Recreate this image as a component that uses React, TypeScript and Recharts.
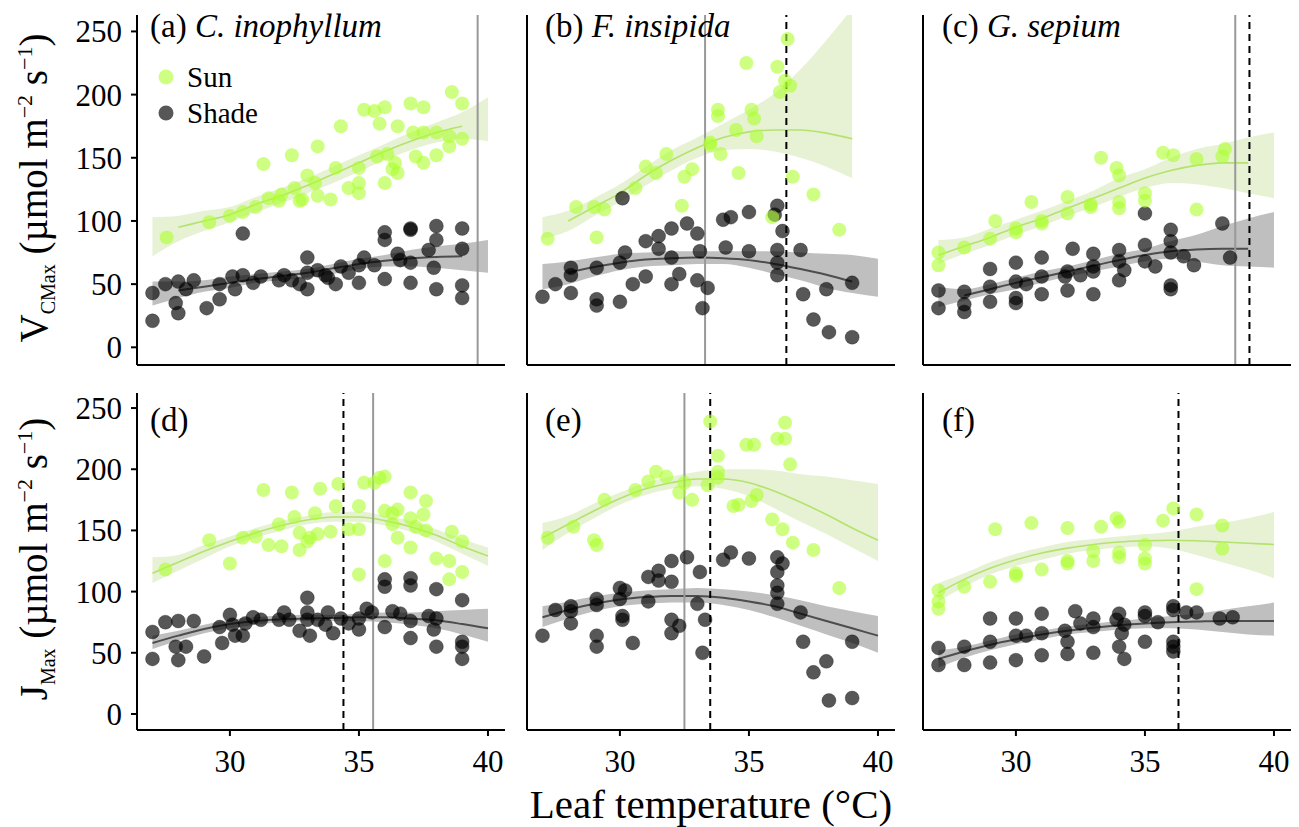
import React from "react";
import { Area, ComposedChart, Line, ReferenceLine, Scatter, XAxis, YAxis } from "recharts";

const FONT = "'Liberation Serif', 'Times New Roman', serif";
const SUN_FILL = "#adff2f";
const SHADE_FILL = "#000000";

type Pt = [number, number];
type Num = number | null;

// fitted curves are sampled on this temperature grid
const T_GRID = [27, 28, 29, 30, 31, 32, 33, 34, 35, 36, 37, 38, 39, 40];
const X_TICKS = [30, 35, 40];
const Y_TICKS = [0, 50, 100, 150, 200, 250];

// ---- (a) C. inophyllum, Vcmax
const A_SUN: Pt[] = [
  [27.55, 87], [29.2, 99], [30.0, 104], [30.5, 107], [31.0, 111], [31.3, 145], [31.5, 118], [31.9, 116],
  [32.0, 121], [32.4, 152], [32.5, 126], [32.7, 116], [32.8, 117], [33.0, 136], [33.3, 130], [33.4, 120],
  [33.4, 159], [33.9, 117], [34.1, 142], [34.3, 175], [34.6, 126], [35.0, 122], [35.0, 130], [35.0, 142],
  [35.2, 188], [35.6, 187], [35.8, 177], [35.7, 151], [36.0, 130], [36.0, 190], [36.1, 153], [36.3, 141],
  [36.4, 146], [36.5, 138], [36.5, 175], [37.0, 193], [37.1, 170], [37.2, 151], [37.5, 170], [37.5, 146],
  [37.5, 190], [38.0, 170], [38.0, 152], [38.5, 167], [38.5, 159], [38.6, 202], [39.0, 165], [39.0, 193],
];
const A_SHADE: Pt[] = [
  [27.0, 43], [27.0, 21], [27.5, 50], [27.9, 35], [28.0, 27], [28.0, 52], [28.3, 46], [28.6, 53],
  [29.1, 31], [29.6, 38], [29.6, 50], [30.1, 56], [30.2, 46], [30.5, 90], [30.5, 57], [30.9, 51],
  [31.2, 56], [31.9, 53], [32.1, 57], [32.4, 53], [32.7, 50], [33.0, 46], [33.0, 71], [33.0, 59],
  [33.4, 61], [33.7, 57], [33.8, 55], [34.1, 50], [34.3, 64], [34.6, 59], [35.0, 51], [35.0, 65],
  [35.2, 71], [35.6, 65], [36.0, 91], [36.0, 85], [36.0, 54], [36.5, 74], [36.6, 69], [37.0, 94],
  [37.0, 93], [37.0, 67], [37.0, 51], [37.7, 77], [38.0, 85], [38.0, 96], [37.9, 63], [38.0, 46],
  [39.0, 94], [39.0, 78], [39.0, 49], [39.0, 39],
];
const A_SUN_FIT: Num[] = [null, 95, 100, 105, 113, 120, 128, 137, 146, 155, 163, 170, 175, null];
const A_SUN_LO: Num[] = [72, 84, 92, 99, 107, 114, 122, 130, 139, 148, 156, 162, 165, 163];
const A_SUN_HI: Num[] = [103, 104, 108, 111, 119, 126, 134, 143, 152, 161, 170, 178, 186, 198];
const A_SHADE_FIT: Num[] = [null, 45, 48, 51, 54, 56.5, 59, 62.5, 66, 68.5, 70.5, 71.5, 72, null];
const A_SHADE_LO: Num[] = [33, 39, 44, 47, 51, 53, 55, 58, 62, 64, 64, 63, 61, 59];
const A_SHADE_HI: Num[] = [52, 52, 53, 56, 58, 60, 62, 66, 70, 73, 77, 80, 82, 85];

// ---- (b) F. insipida, Vcmax
const B_SUN: Pt[] = [
  [27.2, 86], [28.3, 111], [29.0, 111], [29.1, 87], [29.4, 109], [30.6, 126], [31.0, 143], [31.4, 138],
  [31.8, 153], [32.4, 112], [32.5, 135], [32.8, 141], [33.5, 162], [33.5, 160], [33.8, 188], [33.8, 183],
  [33.9, 153], [34.5, 172], [34.6, 138], [34.9, 225], [35.1, 188], [35.2, 181], [35.3, 167], [35.9, 103],
  [36.1, 222], [36.2, 202], [36.4, 211], [36.5, 244], [36.6, 207], [36.7, 135], [37.5, 121], [38.5, 93],
];
const B_SHADE: Pt[] = [
  [27.0, 40], [27.5, 50], [28.1, 63], [28.1, 57], [28.1, 43], [29.1, 63], [29.1, 38], [29.1, 33],
  [30.0, 67], [30.1, 118], [30.2, 75], [30.0, 36], [30.5, 50], [31.0, 84], [31.0, 56], [31.5, 88],
  [31.5, 78], [32.0, 94], [32.0, 71], [32.0, 50], [32.3, 58], [32.6, 98], [33.0, 90], [33.1, 76],
  [33.0, 53], [33.4, 47], [33.2, 31], [34.0, 101], [34.3, 103], [34.1, 79], [35.0, 107], [35.0, 76],
  [36.1, 112], [36.0, 105], [36.3, 92], [36.1, 77], [36.1, 67], [36.1, 57], [37.0, 77], [37.1, 42],
  [38.0, 46], [37.5, 22], [38.1, 12], [39.0, 51], [39.0, 8],
];
const B_SUN_FIT: Num[] = [null, 100, 111, 122, 136, 148, 158, 166, 170.5, 172, 172, 169.5, 165, null];
const B_SUN_LO: Num[] = [86, 92, 104, 115, 128, 140, 150, 156, 157, 155, 150, 143, 134, null];
const B_SUN_HI: Num[] = [103, 108, 118, 129, 143, 156, 166, 177, 188, 201, 220, 243, 268, null];
const B_SHADE_FIT: Num[] = [null, 59, 63.5, 67, 69.5, 70.5, 71, 70.5, 69, 66, 62, 57.5, 52, null];
const B_SHADE_LO: Num[] = [46, 50, 56, 61, 64, 65, 66, 66, 63, 58, 53, 47, 43, 40];
const B_SHADE_HI: Num[] = [66, 68, 71, 74, 75, 76, 76, 76, 76, 76, 75, 74, 73, 70];

// ---- (c) G. sepium, Vcmax
const C_SUN: Pt[] = [
  [27.0, 75], [27.0, 65], [28.0, 79], [29.2, 100], [29.0, 86], [30.0, 94], [30.0, 91], [30.6, 115],
  [31.0, 98], [31.0, 100], [32.0, 119], [32.0, 106], [32.9, 111], [32.9, 113], [33.3, 150], [33.9, 142],
  [34.0, 136], [34.0, 115], [34.0, 110], [35.0, 122], [35.0, 116], [35.7, 154], [36.1, 152], [37.0, 109],
  [37.0, 149], [38.0, 151], [38.1, 157],
];
const C_SHADE: Pt[] = [
  [27.0, 45], [27.0, 31], [28.0, 44], [28.0, 34], [28.0, 28], [29.0, 62], [29.0, 48], [29.0, 36],
  [30.0, 67], [30.0, 52], [30.0, 39], [30.0, 35], [30.4, 50], [31.0, 71], [31.0, 56], [31.0, 42],
  [31.9, 56], [32.0, 60], [32.0, 45], [32.2, 78], [32.5, 57], [33.0, 74], [33.0, 64], [33.0, 60],
  [33.0, 42], [34.0, 77], [34.0, 68], [34.0, 53], [34.2, 61], [35.0, 106], [35.0, 81], [35.0, 68],
  [35.4, 64], [36.0, 93], [36.0, 84], [36.0, 75], [36.0, 49], [36.0, 46], [36.5, 72], [36.9, 65],
  [38.0, 98], [38.3, 71],
];
const C_SUN_FIT: Num[] = [73, 80, 87, 95, 102, 110, 118, 126, 134, 140, 144, 146, 146, null];
const C_SUN_LO: Num[] = [66, 74, 81, 89, 96, 104, 111, 119, 126, 130, 129, 126, 122, 118];
const C_SUN_HI: Num[] = [85, 87, 94, 101, 108, 116, 124, 134, 141, 150, 157, 161, 166, 170];
const C_SHADE_FIT: Num[] = [null, 41, 46, 51, 55.5, 60, 64.5, 69, 73, 76, 77.5, 78, 78, null];
const C_SHADE_LO: Num[] = [32, 37, 42, 46, 51, 56, 60, 64, 68, 70, 68, 65, 64, 63];
const C_SHADE_HI: Num[] = [48, 46, 50, 55, 60, 64, 69, 74, 78, 84, 89, 96, 102, 107];

// ---- (d) C. inophyllum, Jmax
const D_SUN: Pt[] = [
  [27.5, 118], [29.2, 142], [30.0, 123], [30.5, 144], [31.0, 145], [31.3, 183], [31.5, 138], [31.9, 155],
  [32.0, 137], [32.4, 181], [32.5, 161], [32.7, 148], [32.7, 134], [33.0, 141], [33.1, 144], [33.3, 164],
  [33.4, 147], [33.5, 184], [33.9, 149], [34.1, 170], [34.2, 188], [34.6, 151], [35.0, 170], [35.0, 114],
  [35.0, 151], [35.2, 189], [35.6, 189], [35.8, 193], [36.0, 194], [36.0, 125], [36.0, 166], [36.3, 164],
  [36.3, 155], [36.5, 167], [36.5, 144], [37.0, 181], [37.0, 136], [37.0, 160], [37.2, 153], [37.5, 163],
  [37.6, 174], [37.6, 150], [38.0, 127], [38.5, 125], [38.5, 110], [38.6, 149], [39.0, 141], [39.0, 116],
];
const D_SHADE: Pt[] = [
  [27.0, 67], [27.0, 45], [27.5, 75], [27.9, 55], [28.0, 76], [28.0, 44], [28.3, 55], [28.6, 76],
  [29.0, 47], [29.6, 71], [29.7, 58], [30.0, 81], [30.1, 73], [30.2, 64], [30.5, 64], [30.6, 74],
  [30.9, 79], [31.2, 77], [31.9, 77], [32.1, 83], [32.3, 77], [32.7, 68], [33.0, 83], [33.0, 95],
  [33.0, 77], [33.1, 64], [33.4, 77], [33.7, 73], [33.8, 83], [34.0, 66], [34.3, 78], [34.6, 74],
  [35.0, 69], [35.0, 78], [35.3, 86], [35.5, 83], [36.0, 110], [36.0, 104], [36.0, 71], [36.3, 84],
  [36.6, 82], [37.0, 111], [37.0, 105], [37.0, 76], [37.0, 62], [37.7, 80], [38.0, 102], [38.0, 78],
  [37.9, 69], [38.0, 55], [39.0, 93], [39.0, 59], [39.0, 55], [39.0, 45],
];
const D_SUN_FIT: Num[] = [115, 124, 133, 141, 148, 154, 158.5, 161, 161, 158, 153, 146, 137, 129];
const D_SUN_LO: Num[] = [107, 117, 127, 137, 144, 150, 155, 157, 157, 154, 149, 141, 131, 121];
const D_SUN_HI: Num[] = [128, 130, 138, 145, 152, 158, 162, 165, 165.5, 162, 158, 151, 143, 136];
const D_SHADE_FIT: Num[] = [58, 64, 69.5, 73.5, 76, 77.5, 78, 78.5, 79, 79, 78, 76.5, 73.5, 70];
const D_SHADE_LO: Num[] = [53, 60, 66, 70, 73, 75, 76, 76, 76, 75, 73, 70, 65, 59];
const D_SHADE_HI: Num[] = [64, 68, 73, 77, 79, 80.5, 81, 81, 82, 83, 83, 84, 85, 86];

// ---- (e) F. insipida, Jmax
const E_SUN: Pt[] = [
  [27.2, 144], [28.2, 153], [29.0, 142], [29.1, 138], [29.4, 175], [30.6, 183], [31.1, 190], [31.4, 198],
  [31.8, 194], [32.3, 181], [32.5, 189], [32.8, 175], [33.4, 187], [33.5, 239], [33.8, 211], [33.8, 198],
  [33.8, 193], [34.4, 170], [34.6, 171], [34.9, 220], [35.2, 220], [35.1, 174], [35.3, 179], [35.9, 159],
  [36.1, 225], [36.4, 238], [36.4, 225], [36.3, 151], [36.6, 204], [36.7, 140], [37.5, 134], [38.5, 103],
];
const E_SHADE: Pt[] = [
  [27.0, 64], [27.5, 85], [28.1, 88], [28.1, 84], [28.1, 74], [29.1, 94], [29.1, 89], [29.1, 64],
  [29.1, 55], [30.0, 103], [30.1, 77], [30.1, 80], [30.2, 101], [30.0, 94], [30.5, 58], [31.1, 112],
  [31.1, 92], [31.5, 117], [31.5, 109], [32.0, 125], [32.0, 108], [32.0, 77], [32.0, 66], [32.3, 72],
  [32.6, 128], [33.1, 116], [33.0, 90], [33.3, 77], [33.2, 50], [34.0, 126], [34.3, 132], [35.0, 127],
  [36.1, 128], [36.3, 123], [36.1, 116], [36.1, 105], [36.1, 99], [36.1, 90], [37.0, 83], [37.1, 59],
  [38.0, 43], [37.5, 34], [38.1, 11], [39.0, 59], [39.0, 13],
];
const E_SUN_FIT: Num[] = [144, 155, 166, 176, 184, 189, 192, 192, 189, 182, 173, 163, 152, 142];
const E_SUN_LO: Num[] = [134, 148, 160, 171, 179, 184, 186, 184, 178, 168, 157, 147, 136, 125];
const E_SUN_HI: Num[] = [156, 162, 172, 181, 189, 194, 198, 200, 200, 199, 196, 194, 191, 188];
const E_SHADE_FIT: Num[] = [79, 85, 90, 93.5, 95.5, 96.5, 96.5, 95, 92, 88, 82, 76, 70, 64];
const E_SHADE_LO: Num[] = [71, 78, 84, 88, 90, 91, 91, 89, 85, 79, 72, 65, 58, 50];
const E_SHADE_HI: Num[] = [88, 92, 96, 99, 101, 102, 103, 102, 100, 97, 93, 88, 84, 80];

// ---- (f) G. sepium, Jmax
const F_SUN: Pt[] = [
  [27.0, 101], [27.0, 92], [27.0, 86], [28.0, 104], [29.0, 108], [29.2, 151], [30.0, 113], [30.0, 115],
  [30.6, 156], [31.0, 118], [32.0, 123], [32.0, 125], [32.0, 152], [33.0, 125], [33.0, 133], [33.3, 153],
  [33.9, 160], [34.0, 157], [34.0, 132], [34.0, 128], [35.0, 138], [35.0, 127], [35.0, 123], [35.7, 158],
  [36.1, 168], [37.0, 163], [37.0, 102], [38.0, 154], [38.0, 135],
];
const F_SHADE: Pt[] = [
  [27.0, 54], [27.0, 40], [28.0, 55], [28.0, 40], [29.0, 78], [29.0, 59], [29.0, 42], [30.0, 78],
  [30.0, 64], [30.0, 44], [30.4, 64], [31.0, 82], [31.0, 66], [31.0, 48], [31.9, 68], [32.0, 59],
  [32.0, 49], [32.3, 84], [32.5, 74], [33.0, 78], [33.0, 71], [33.0, 50], [33.9, 77], [34.0, 82],
  [34.1, 66], [34.2, 73], [34.0, 55], [34.2, 45], [35.0, 83], [35.0, 80], [35.0, 59], [35.5, 75],
  [36.1, 88], [36.1, 85], [36.1, 59], [36.1, 55], [36.1, 51], [36.6, 83], [37.0, 83], [37.9, 78],
  [38.4, 79],
];
const F_SUN_FIT: Num[] = [99, 110, 119, 126, 131.5, 135.5, 138.5, 140.5, 141.5, 142, 141.5, 140.5, 139.5, 138.5];
const F_SUN_LO: Num[] = [92, 104, 114, 121, 126, 131, 134, 136, 137, 135, 130, 124, 118, 111];
const F_SUN_HI: Num[] = [107, 115, 124, 131, 136, 140.5, 143, 145, 147, 149, 153, 156, 160, 165];
const F_SHADE_FIT: Num[] = [45, 51, 56.5, 61, 65, 68, 70.5, 72.5, 74, 75, 75.5, 76, 76, 76];
const F_SHADE_LO: Num[] = [38, 46, 52, 57, 61, 65, 67, 69, 70, 70, 69, 67, 65, 64];
const F_SHADE_HI: Num[] = [52, 55, 60, 65, 68, 71.5, 74, 76, 78, 80, 82, 85, 88, 91];

// optimum temperatures: grey solid = sun, black dashed = shade
const SOLID_LINES: Num[] = [39.6, 33.3, 38.5, 35.55, 32.5, null];
const DASHED_LINES: Num[] = [null, 36.45, 39.05, 34.4, 33.5, 36.3];

const PANEL_TAGS = ["(a)", "(b)", "(c)", "(d)", "(e)", "(f)"];
const SPECIES = ["C. inophyllum", "F. insipida", "G. sepium", "", "", ""];

interface Spec {
  sun: Pt[];
  shade: Pt[];
  sunFit: Num[];
  sunLo: Num[];
  sunHi: Num[];
  shadeFit: Num[];
  shadeLo: Num[];
  shadeHi: Num[];
}

const SPECS: Spec[] = [
  { sun: A_SUN, shade: A_SHADE, sunFit: A_SUN_FIT, sunLo: A_SUN_LO, sunHi: A_SUN_HI, shadeFit: A_SHADE_FIT, shadeLo: A_SHADE_LO, shadeHi: A_SHADE_HI },
  { sun: B_SUN, shade: B_SHADE, sunFit: B_SUN_FIT, sunLo: B_SUN_LO, sunHi: B_SUN_HI, shadeFit: B_SHADE_FIT, shadeLo: B_SHADE_LO, shadeHi: B_SHADE_HI },
  { sun: C_SUN, shade: C_SHADE, sunFit: C_SUN_FIT, sunLo: C_SUN_LO, sunHi: C_SUN_HI, shadeFit: C_SHADE_FIT, shadeLo: C_SHADE_LO, shadeHi: C_SHADE_HI },
  { sun: D_SUN, shade: D_SHADE, sunFit: D_SUN_FIT, sunLo: D_SUN_LO, sunHi: D_SUN_HI, shadeFit: D_SHADE_FIT, shadeLo: D_SHADE_LO, shadeHi: D_SHADE_HI },
  { sun: E_SUN, shade: E_SHADE, sunFit: E_SUN_FIT, sunLo: E_SUN_LO, sunHi: E_SUN_HI, shadeFit: E_SHADE_FIT, shadeLo: E_SHADE_LO, shadeHi: E_SHADE_HI },
  { sun: F_SUN, shade: F_SHADE, sunFit: F_SUN_FIT, sunLo: F_SUN_LO, sunHi: F_SUN_HI, shadeFit: F_SHADE_FIT, shadeLo: F_SHADE_LO, shadeHi: F_SHADE_HI },
];

// layout (plot-area pixels)
const COL_X = [137, 527, 923];
const TAG_DX = [13, 18, 19];
const PLOT_W = 368;
const ROWS = [
  { top: 15, h: 350, domain: [-14, 263] as [number, number] },
  { top: 393, h: 337, domain: [-13.1, 262.3] as [number, number] },
];
const X_DOMAIN: [number, number] = [26.4, 40.66];

const band = (lo: Num[], hi: Num[], i: number) =>
  lo[i] == null || hi[i] == null ? null : [lo[i], hi[i]];

function toRows(s: Spec) {
  return T_GRID.map((t, i) => ({
    t,
    sunFit: s.sunFit[i],
    sunBand: band(s.sunLo, s.sunHi, i),
    shadeFit: s.shadeFit[i],
    shadeBand: band(s.shadeLo, s.shadeHi, i),
  }));
}

const sunDot = (p: any) => (
  <circle cx={p.cx} cy={p.cy} r={7} fill={SUN_FILL} fillOpacity={0.6} />
);
const shadeDot = (p: any) => (
  <circle cx={p.cx} cy={p.cy} r={7} fill={SHADE_FILL} fillOpacity={0.66} stroke="#000" strokeOpacity={0.35} strokeWidth={0.8} />
);

const axisStroke = { stroke: "#000", strokeWidth: 2 };
const tickFont = { fill: "#000", fontSize: 31, fontFamily: FONT };

function Panel({ idx }: { idx: number }) {
  const col = idx % 3;
  const row = Math.floor(idx / 3);
  const r = ROWS[row];
  const yw = col === 0 ? 70 : 10;
  const xh = row === 1 ? 55 : 12;
  const mt = 10;
  const mr = 12;
  const s = SPECS[idx];
  const solid = SOLID_LINES[idx];
  const dashed = DASHED_LINES[idx];
  return (
    <div style={{ position: "absolute", left: COL_X[col] - yw, top: r.top - mt }}>
      <ComposedChart
        width={yw + PLOT_W + mr}
        height={mt + r.h + xh}
        data={toRows(s)}
        margin={{ top: mt, right: mr, bottom: 0, left: 0 }}
      >
        <XAxis
          type="number"
          dataKey="t"
          domain={X_DOMAIN}
          ticks={X_TICKS}
          allowDataOverflow
          height={xh}
          tickSize={6}
          tickMargin={14}
          axisLine={axisStroke}
          tickLine={axisStroke}
          tick={row === 1 ? tickFont : false}
        />
        <YAxis
          type="number"
          domain={r.domain}
          ticks={Y_TICKS}
          allowDataOverflow
          width={yw}
          tickSize={6}
          tickMargin={9}
          axisLine={axisStroke}
          tickLine={axisStroke}
          tick={col === 0 ? tickFont : false}
        />
        <Area type="monotone" dataKey="shadeBand" stroke="none" fill="#808080" fillOpacity={0.5} isAnimationActive={false} dot={false} activeDot={false} />
        <Area type="monotone" dataKey="sunBand" stroke="none" fill="#9ccc50" fillOpacity={0.25} isAnimationActive={false} dot={false} activeDot={false} />
        <Scatter data={s.shade.map(([t, v]) => ({ t, v }))} dataKey="v" shape={shadeDot} isAnimationActive={false} />
        <Scatter data={s.sun.map(([t, v]) => ({ t, v }))} dataKey="v" shape={sunDot} isAnimationActive={false} />
        <Line type="monotone" dataKey="shadeFit" stroke="#4d4d4d" strokeWidth={2} dot={false} activeDot={false} isAnimationActive={false} />
        <Line type="monotone" dataKey="sunFit" stroke="#b3e36c" strokeWidth={1.6} dot={false} activeDot={false} isAnimationActive={false} />
        {solid != null && <ReferenceLine x={solid} stroke="#999999" strokeWidth={2} />}
        {dashed != null && <ReferenceLine x={dashed} stroke="#000" strokeWidth={2} strokeDasharray="7 5" />}
      </ComposedChart>
    </div>
  );
}

export default function App() {
  return (
    <div style={{ position: "absolute", left: 0, top: 0, width: 1299, height: 827, background: "#fff", overflow: "hidden" }}>
      {SPECS.map((_, i) => (
        <Panel key={i} idx={i} />
      ))}
      <svg width={1299} height={827} style={{ position: "absolute", left: 0, top: 0, pointerEvents: "none" }} fontFamily={FONT}>
        {PANEL_TAGS.map((tag, i) => (
          <text key={tag} x={COL_X[i % 3] + TAG_DX[i % 3]} y={i < 3 ? 37 : 431} fontSize={33} fill="#000">
            {tag + " "}
            <tspan fontStyle="italic">{SPECIES[i]}</tspan>
          </text>
        ))}
        <circle cx={166} cy={77} r={7.5} fill={SUN_FILL} fillOpacity={0.6} />
        <text x={187} y={87} fontSize={29} fill="#000">Sun</text>
        <circle cx={166} cy={113} r={7.5} fill={SHADE_FILL} fillOpacity={0.66} />
        <text x={187} y={123} fontSize={29} fill="#000">Shade</text>
        <text transform="translate(47,188) rotate(-90)" textAnchor="middle" fontSize={39} fill="#000">
          V<tspan fontSize={20} dy={8}>CMax</tspan>
          <tspan dy={-8}>{" (µmol m"}</tspan>
          <tspan fontSize={22} dy={-15}>−2</tspan>
          <tspan dy={15}>{" s"}</tspan>
          <tspan fontSize={22} dy={-15}>−1</tspan>
          <tspan dy={15}>)</tspan>
        </text>
        <text transform="translate(47,559) rotate(-90)" textAnchor="middle" fontSize={39} fill="#000">
          J<tspan fontSize={20} dy={8}>Max</tspan>
          <tspan dy={-8}>{" (µmol m"}</tspan>
          <tspan fontSize={22} dy={-15}>−2</tspan>
          <tspan dy={15}>{" s"}</tspan>
          <tspan fontSize={22} dy={-15}>−1</tspan>
          <tspan dy={15}>)</tspan>
        </text>
        <text x={711} y={818} textAnchor="middle" fontSize={41} fill="#000">
          Leaf temperature (°C)
        </text>
      </svg>
    </div>
  );
}
